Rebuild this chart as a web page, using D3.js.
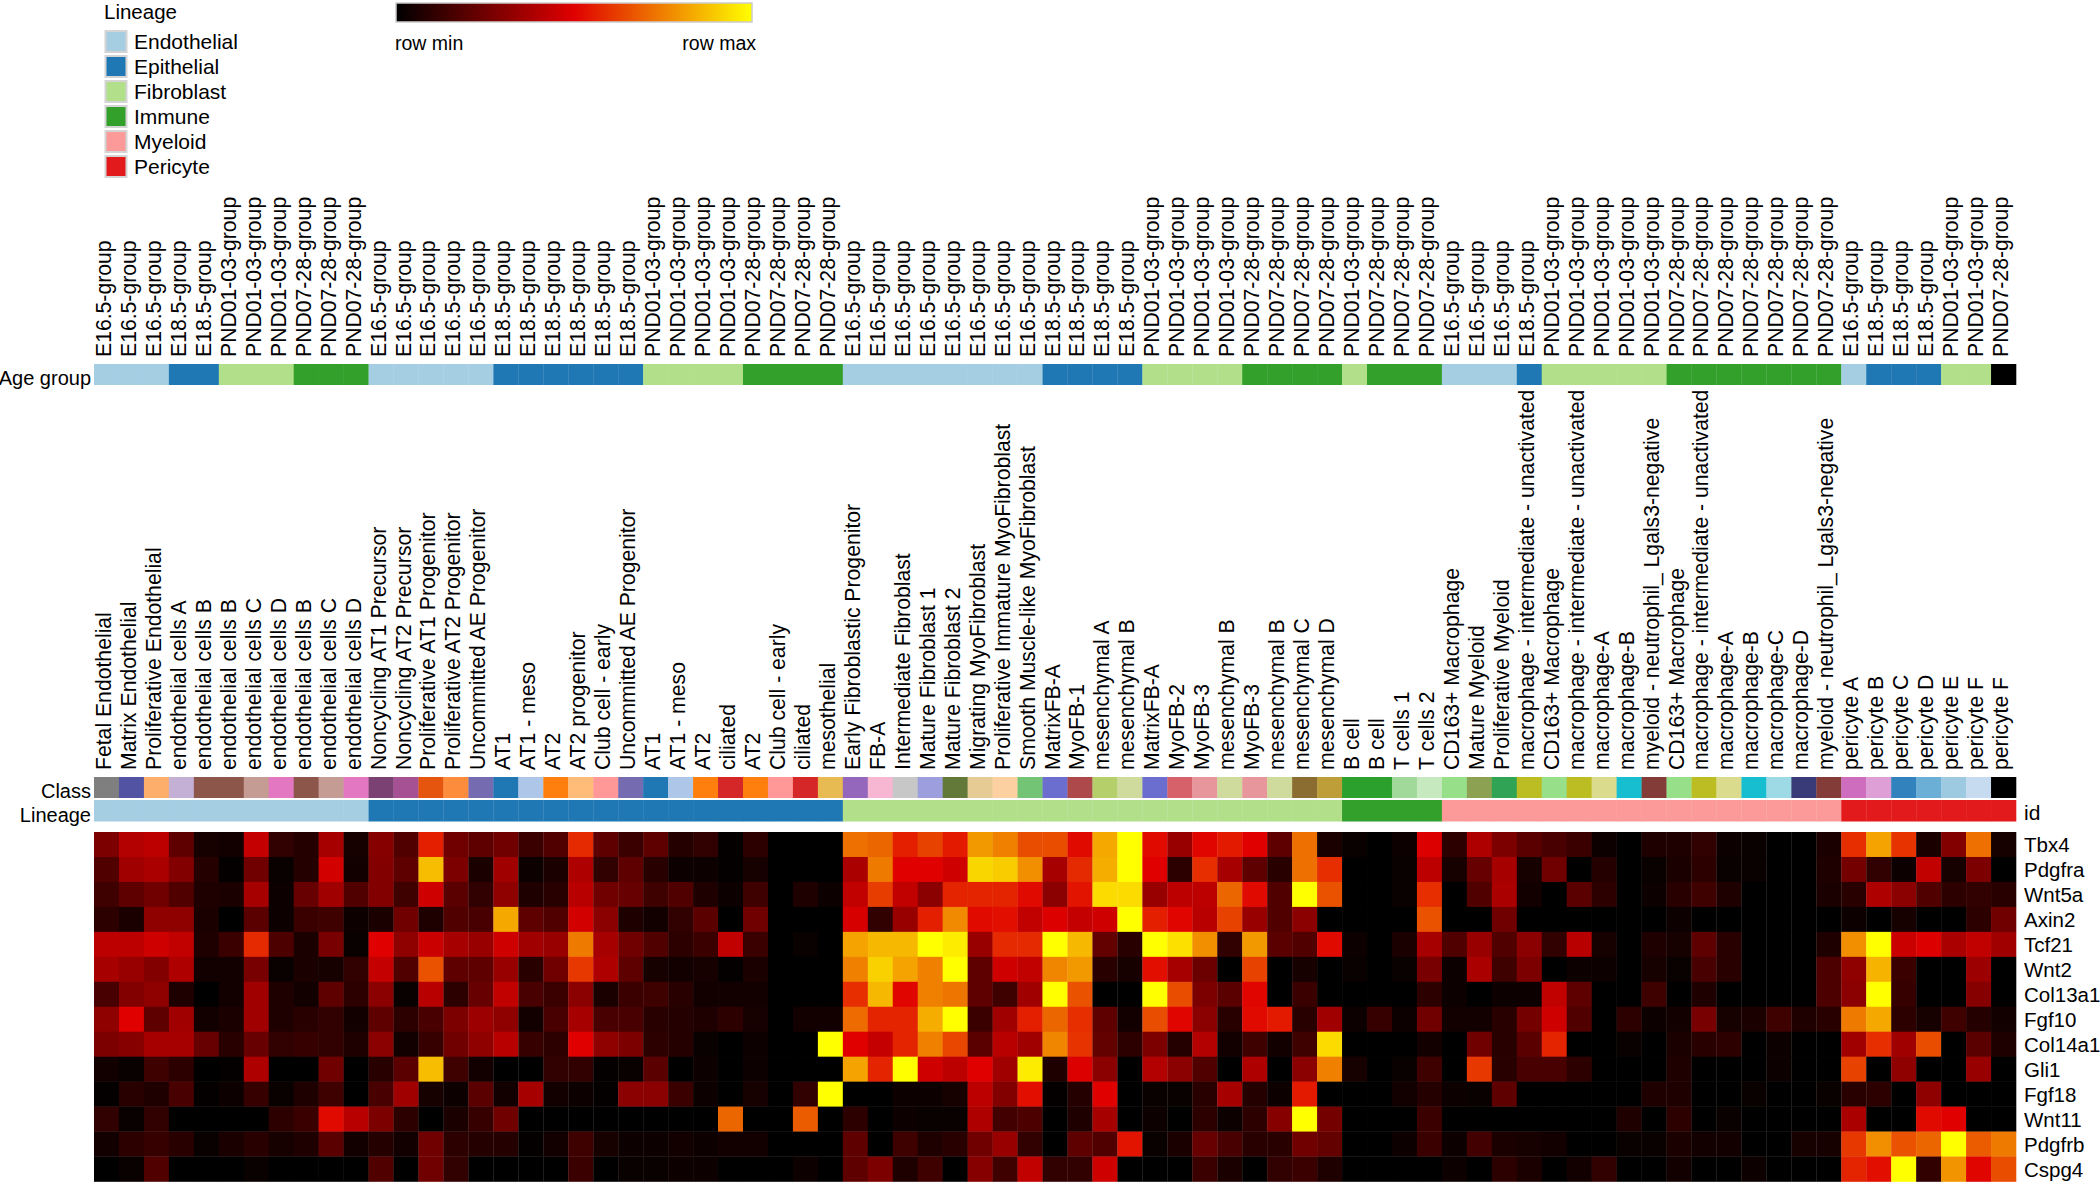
<!DOCTYPE html>
<html>
<head>
<meta charset="utf-8">
<script src="https://d3js.org/d3.v7.min.js"></script>
<style>
body { margin: 0; background: #fff; }
text { font-family: "Liberation Sans", Arial, sans-serif; fill: #000; }
</style>
</head>
<body>
<script>
var width = 2100, height = 1182;

var lineages = ["Endothelial", "Epithelial", "Fibroblast", "Immune", "Myeloid", "Pericyte"];
var lineageColors = ["#a6cee3", "#1f78b4", "#b2df8a", "#33a02c", "#fb9a99", "#e31a1c"];
var ageGroups = ["E16.5-group", "E18.5-group", "PND01-03-group", "PND07-28-group"];

var genes = ["Tbx4", "Pdgfra", "Wnt5a", "Axin2", "Tcf21", "Wnt2", "Col13a1", "Fgf10", "Col14a1", "Gli1", "Fgf18", "Wnt11", "Pdgfrb", "Cspg4"];

var classNames = [
  "Fetal Endothelial", "Matrix Endothelial", "Proliferative Endothelial", "endothelial cells A", "endothelial cells B", "endothelial cells B", "endothelial cells C", "endothelial cells D", "endothelial cells B", "endothelial cells C", "endothelial cells D",
  "Noncycling AT1 Precursor", "Noncycling AT2 Precursor", "Proliferative AT1 Progenitor", "Proliferative AT2 Progenitor", "Uncommitted AE Progenitor", "AT1", "AT1 - meso", "AT2", "AT2 progenitor", "Club cell - early", "Uncommitted AE Progenitor", "AT1", "AT1 - meso", "AT2", "ciliated", "AT2", "Club cell - early", "ciliated", "mesothelial",
  "Early Fibroblastic Progenitor", "FB-A", "Intermediate Fibroblast", "Mature Fibroblast 1", "Mature Fibroblast 2", "Migrating MyoFibroblast", "Proliferative Immature MyoFibroblast", "Smooth Muscle-like MyoFibroblast", "MatrixFB-A", "MyoFB-1", "mesenchymal A", "mesenchymal B", "MatrixFB-A", "MyoFB-2", "MyoFB-3", "mesenchymal B", "MyoFB-3", "mesenchymal B", "mesenchymal C", "mesenchymal D",
  "B cell", "B cell", "T cells 1", "T cells 2",
  "CD163+ Macrophage", "Mature Myeloid", "Proliferative Myeloid", "macrophage - intermediate - unactivated", "CD163+ Macrophage", "macrophage - intermediate - unactivated", "macrophage-A", "macrophage-B", "myeloid - neutrophil_ Lgals3-negative", "CD163+ Macrophage", "macrophage - intermediate - unactivated", "macrophage-A", "macrophage-B", "macrophage-C", "macrophage-D", "myeloid - neutrophil_ Lgals3-negative",
  "pericyte A", "pericyte B", "pericyte C", "pericyte D", "pericyte E", "pericyte F", "pericyte F"
];

var classColors = [
  "#7f7f7f", "#5254a3", "#fdae6b", "#c5b0d5", "#8c564b", "#8c564b", "#c49c94", "#e377c2", "#8c564b", "#c49c94", "#e377c2",
  "#7b4173", "#a55194", "#e6550d", "#fd8d3c", "#756bb1", "#1f77b4", "#aec7e8", "#ff7f0e", "#ffbb78", "#ff9896", "#756bb1", "#1f77b4", "#aec7e8", "#ff7f0e", "#d62728", "#ff7f0e", "#ff9896", "#d62728", "#e7ba52",
  "#9467bd", "#f7b6d2", "#c7c7c7", "#9c9ede", "#637939", "#e7cb94", "#fdd0a2", "#74c476", "#6b6ecf", "#ad494a", "#b5cf6b", "#cedb9c", "#6b6ecf", "#d6616b", "#e7969c", "#cedb9c", "#e7969c", "#cedb9c", "#8c6d31", "#bd9e39",
  "#2ca02c", "#2ca02c", "#a1d99b", "#c7e9c0",
  "#98df8a", "#8ca252", "#31a354", "#bcbd22", "#98df8a", "#bcbd22", "#dbdb8d", "#17becf", "#843c39", "#98df8a", "#bcbd22", "#dbdb8d", "#17becf", "#9edae5", "#393b79", "#843c39",
  "#ce6dbd", "#de9ed6", "#3182bd", "#6baed6", "#9ecae1", "#c6dbef", "#000000"
];

// index into lineages for each column
var columnLineage = [
  0,0,0,0,0,0,0,0,0,0,0,
  1,1,1,1,1,1,1,1,1,1,1,1,1,1,1,1,1,1,1,
  2,2,2,2,2,2,2,2,2,2,2,2,2,2,2,2,2,2,2,2,
  3,3,3,3,
  4,4,4,4,4,4,4,4,4,4,4,4,4,4,4,4,
  5,5,5,5,5,5,5
];

// index into ageGroups for each column
var columnAge = [
  0,0,0,1,1,2,2,2,3,3,3,
  0,0,0,0,0,1,1,1,1,1,1,2,2,2,2,3,3,3,3,
  0,0,0,0,0,0,0,0,1,1,1,1,2,2,2,2,3,3,3,3,
  2,3,3,3,
  0,0,0,1,2,2,2,2,2,3,3,3,3,3,3,3,
  0,1,1,1,2,2,3
];

// heat values, 0 = row min, 100 = row max
var Tbx4 = [28,40,42,21,5,4,44,11,8,37,5,30,18,56,25,21,25,13,18,58,21,13,21,8,11,1,10,0,0,0,72,70,56,63,55,80,75,65,65,52,83,100,52,34,51,55,50,21,72,6,2,0,3,49,10,39,28,20,16,13,3,0,7,7,11,3,2,0,0,6,59,82,60,6,29,72,5];
var Pdgfra = [18,36,38,29,8,1,25,2,8,47,4,29,21,87,28,6,36,3,6,39,11,21,9,3,3,1,5,0,0,0,38,74,50,50,46,92,90,78,37,58,84,100,50,10,59,37,21,9,72,59,0,0,2,42,5,23,37,5,25,0,8,0,2,6,10,2,2,0,0,7,26,11,3,43,5,28,0];
var Wnt5a = [14,21,25,18,7,6,37,3,23,36,18,29,14,46,20,11,32,7,9,41,25,23,14,18,7,3,14,0,7,3,43,62,43,31,57,57,57,52,31,54,93,93,34,42,42,70,52,18,100,66,0,0,2,59,0,18,38,4,0,20,10,0,3,9,14,7,0,0,0,6,9,39,31,18,10,11,9];
var Axin2 = [10,6,32,32,6,0,20,3,13,14,3,6,25,7,18,16,83,21,18,47,31,7,4,11,20,0,25,0,0,0,48,11,34,56,77,52,53,43,49,44,46,100,56,51,41,63,34,18,31,0,0,0,0,66,0,0,25,0,0,0,0,0,0,3,0,0,0,0,0,0,3,0,5,0,0,10,25];
var Tcf21 = [42,42,46,43,7,13,58,17,6,27,2,50,32,45,37,34,46,36,34,74,37,25,18,10,13,43,13,0,2,0,82,86,86,100,96,34,58,58,100,86,22,9,100,94,78,11,80,20,18,52,3,0,6,37,18,34,18,31,11,41,5,0,7,5,21,9,0,0,0,7,78,100,45,49,38,43,36];
var Wnt2 = [37,34,29,39,4,4,27,2,6,5,11,44,18,66,21,21,34,9,25,61,39,21,5,4,5,1,6,0,0,0,75,91,82,75,100,21,46,43,76,80,9,5,53,37,24,0,63,0,5,0,2,0,2,27,3,38,14,28,0,3,3,0,5,2,16,9,0,0,0,17,32,85,13,0,0,35,0];
var Col13a1 = [16,29,32,7,0,4,36,7,4,21,10,31,2,41,10,23,43,16,13,31,6,13,14,9,4,4,4,0,0,0,59,86,51,75,73,21,14,36,100,66,0,0,100,65,28,20,51,0,13,0,0,0,0,10,3,0,3,3,43,21,0,0,14,0,7,0,0,0,0,17,31,100,12,0,0,30,0];
var Fgf10 = [32,50,21,36,4,6,36,7,9,11,4,21,10,16,28,35,32,4,16,37,16,16,9,8,7,10,5,0,4,4,71,57,57,84,100,13,36,56,70,59,21,4,65,51,31,9,52,55,9,36,3,12,3,25,4,4,9,26,46,18,0,10,3,4,27,5,6,14,7,9,74,83,10,5,14,8,4];
var Col14a1 = [28,30,37,37,23,9,23,11,12,11,7,31,4,12,25,32,41,12,10,50,32,28,10,8,2,0,3,0,0,100,50,44,57,75,64,20,41,36,76,60,22,10,28,8,40,4,14,4,14,93,0,0,0,4,0,25,9,20,57,0,0,2,0,6,9,10,0,3,0,0,36,59,36,65,0,20,7];
var Gli1 = [4,2,14,10,0,1,39,0,0,25,0,9,20,87,14,4,0,0,11,11,1,2,20,0,3,0,3,0,0,0,82,57,100,46,42,50,36,96,7,49,31,0,40,31,18,0,39,0,31,75,5,0,2,14,0,61,9,16,16,10,0,0,0,7,0,0,0,3,0,0,63,0,32,0,0,34,0];
var Fgf18 = [1,9,7,16,1,3,12,2,7,14,0,16,36,5,3,20,4,37,4,3,1,31,31,13,3,0,5,0,11,100,0,0,3,3,5,42,29,53,1,8,50,0,2,2,9,37,8,3,55,0,0,0,4,8,3,2,21,0,0,0,0,0,7,7,0,0,2,0,0,2,9,10,0,32,0,0,0];
var Wnt11 = [11,2,11,0,0,0,0,10,13,52,41,28,10,0,6,12,25,0,0,0,0,0,0,0,0,70,0,0,68,0,10,0,3,2,2,39,15,17,0,7,37,0,3,0,10,3,10,30,100,26,0,0,0,13,0,0,0,0,0,0,0,7,0,10,0,2,0,0,0,0,38,0,0,52,50,0,0];
var Pdgfrb = [4,10,12,9,2,6,9,5,7,20,4,8,4,25,10,8,8,1,4,14,5,3,3,4,3,4,4,0,0,0,21,0,14,7,9,25,34,11,0,21,18,54,2,6,23,16,9,9,25,22,0,0,3,13,3,15,6,5,4,0,0,2,2,6,4,4,0,0,5,5,61,78,66,70,100,68,74];
var Cspg4 = [0,2,18,0,0,0,2,0,0,0,0,18,0,25,11,0,0,0,0,13,0,2,2,3,3,0,0,0,3,0,21,28,7,14,0,30,14,43,11,11,46,0,0,0,13,6,0,11,13,7,0,0,0,0,3,0,10,6,0,4,11,0,0,4,0,0,3,0,0,0,57,53,100,11,79,51,65];

var rowValues = [Tbx4, Pdgfra, Wnt5a, Axin2, Tcf21, Wnt2, Col13a1, Fgf10, Col14a1, Gli1, Fgf18, Wnt11, Pdgfrb, Cspg4];

var svg = d3.select("body").append("svg")
  .attr("width", width)
  .attr("height", height)
  .style("display", "block");

var x = d3.scaleBand().domain(d3.range(classNames.length)).range([94, 2016]);
var y = d3.scaleBand().domain(genes).range([832, 1181.5]);

var lineageColor = d3.scaleOrdinal().domain(lineages).range(lineageColors);
var ageColor = d3.scaleOrdinal().domain(ageGroups).range(lineageColors);

var heat = d3.scaleLinear()
  .domain([0, 50, 100])
  .range(["#000000", "#e00000", "#ffff00"]);

//annotation bars ==========================================
function drawBar(top, h, colorOf) {
  svg.append("g").selectAll("rect")
    .data(classNames)
    .join("rect")
    .attr("x", (d, i) => x(i))
    .attr("y", top)
    .attr("width", x.bandwidth() + 0.3)
    .attr("height", h)
    .attr("fill", (d, i) => colorOf(i));
}

// the very last column of the age bar is black in the source figure
drawBar(364, 21, i => i == classNames.length - 1 ? "#000" : ageColor(ageGroups[columnAge[i]]));
drawBar(777, 21, i => classColors[i]);
drawBar(800, 21.5, i => lineageColor(lineages[columnLineage[i]]));

//heatmap ==================================================
var rows = svg.append("g").selectAll("g")
  .data(genes)
  .join("g");

rows.selectAll("rect")
  .data((g, r) => rowValues[r].map((v, c) => ({gene: g, col: c, value: v})))
  .join("rect")
  .attr("x", d => x(d.col))
  .attr("y", d => y(d.gene))
  .attr("width", x.bandwidth() + 0.3)
  .attr("height", y.bandwidth() + 0.3)
  .attr("fill", d => heat(d.value));

//axes =====================================================
function columnAxis(top, labels) {
  var g = svg.append("g")
    .attr("transform", "translate(0," + top + ")")
    .call(d3.axisTop(x).tickSize(0).tickFormat(i => labels[i]));
  g.select(".domain").remove();
  g.selectAll("text")
    .attr("transform", "rotate(-90)")
    .attr("text-anchor", "start")
    .attr("x", 0)
    .attr("y", 4.5)
    .attr("dy", 0)
    .style("font-size", "21.2px");
}
columnAxis(357, columnAge.map(a => ageGroups[a]));
columnAxis(770, classNames);

var geneAxis = svg.append("g")
  .attr("transform", "translate(2016,0)")
  .call(d3.axisRight(y).tickSize(0).tickPadding(8));
geneAxis.select(".domain").remove();
geneAxis.selectAll("text")
  .attr("dy", 7.5)
  .style("font-size", "20.5px");

var sideLabels = [["Age group", 385], ["Class", 798], ["Lineage", 822]];
svg.append("g").selectAll("text")
  .data(sideLabels)
  .join("text")
  .attr("x", 91)
  .attr("y", d => d[1])
  .attr("text-anchor", "end")
  .style("font-size", "20px")
  .text(d => d[0]);

svg.append("text")
  .attr("x", 2024)
  .attr("y", 820)
  .style("font-size", "21px")
  .text("id");

//lineage legend ===========================================
svg.append("text")
  .attr("x", 104)
  .attr("y", 18.6)
  .style("font-size", "20.5px")
  .text("Lineage");

var legendY = d3.scaleBand().domain(lineages).range([29, 179]);
var legend = svg.append("g").selectAll("g")
  .data(lineages)
  .join("g")
  .attr("transform", d => "translate(0," + legendY(d) + ")");

legend.append("rect")
  .attr("x", 105.5)
  .attr("y", 2)
  .attr("width", 21)
  .attr("height", 21)
  .attr("fill", d => lineageColor(d))
  .attr("stroke", "#d4d4d4")
  .attr("stroke-width", 2);

legend.append("text")
  .attr("x", 134)
  .attr("y", 20)
  .style("font-size", "21px")
  .text(d => d);

//color key ================================================
var gradient = svg.append("defs").append("linearGradient")
  .attr("id", "rowkey");
gradient.selectAll("stop")
  .data(heat.domain())
  .join("stop")
  .attr("offset", d => d + "%")
  .attr("stop-color", d => heat(d));

svg.append("rect")
  .attr("x", 396)
  .attr("y", 3)
  .attr("width", 356)
  .attr("height", 19)
  .attr("fill", "url(#rowkey)")
  .attr("stroke", "#cccccc")
  .attr("stroke-width", 1.5);

svg.append("text")
  .attr("x", 395)
  .attr("y", 50)
  .style("font-size", "19.5px")
  .text("row min");

svg.append("text")
  .attr("x", 756)
  .attr("y", 50)
  .attr("text-anchor", "end")
  .style("font-size", "19.5px")
  .text("row max");
</script>
</body>
</html>
